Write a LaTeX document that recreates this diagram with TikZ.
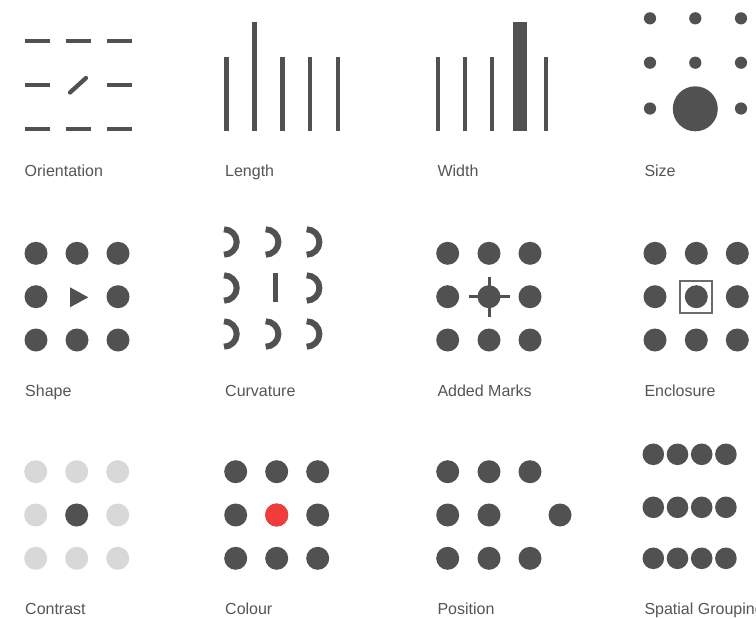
\documentclass[tikz,border=0pt]{standalone}
\usepackage{fontspec}
\setmainfont{Liberation Sans}
\definecolor{ink}{HTML}{515151}
\definecolor{pale}{HTML}{D8D8D8}
\definecolor{hot}{HTML}{F23B3B}
\definecolor{txt}{HTML}{555555}
\begin{document}
\begin{tikzpicture}[x=1pt,y=-1pt,
  lbl/.style={anchor=base west,inner sep=0pt,text=txt,font=\fontsize{16}{19}\selectfont},
  seg/.style={line width=4.3pt,draw=ink},
  arcstroke/.style={line width=6pt,draw=ink}]
\clip (0,0) rectangle (756,619);
\useasboundingbox (0,0) rectangle (756,619);
\fill[white] (0,0) rectangle (756,619);
% ---------- Orientation ----------
\foreach \y in {41,129}{\foreach \x in {24.5,65.5,106.5}{\draw[seg] (\x,\y) -- ++(25,0);}}
\draw[seg] (24.5,85) -- ++(25,0);
\draw[seg] (106.5,85) -- ++(25,0);
\draw[seg,line cap=round] (70,92.5) -- (86,78);
\node[lbl] (l1) at (24.5,176.5) {Orientation};
% ---------- Length ----------
\foreach \x in {226.7,282.3,310,338}{\fill[ink] (\x-2.3,56.7) rectangle (\x+2.3,131);}
\fill[ink] (254.3-2.3,21.7) rectangle (254.3+2.3,131);
\node[lbl] (l2) at (225,176.5) {Length};
% ---------- Width ----------
\foreach \x in {438.3,465.3,492.3,546.3}{\fill[ink] (\x-2,56.7) rectangle (\x+2,131);}
\fill[ink] (512.7,21.7) rectangle (526.7,131);
\node[lbl] (l3) at (437.3,176.5) {Width};
% ---------- Size ----------
\foreach \x in {650,695.3,741}{\foreach \y in {18.3,62.7}{\fill[ink] (\x,\y) circle (6.1);}}
\fill[ink] (650,108.5) circle (6.1);
\fill[ink] (741,108.5) circle (6.1);
\fill[ink] (695.3,108.8) circle (22.5);
\node[lbl] (l4) at (644.3,176.5) {Size};
% ---------- Shape ----------
\foreach \x in {36,77,118}{\foreach \y in {253.3,340}{\fill[ink] (\x,\y) circle (11.5);}}
\fill[ink] (36,296.7) circle (11.5);
\fill[ink] (118,296.7) circle (11.5);
\fill[ink] (70,287.3) -- (70,307.3) -- (88.3,297.3) -- cycle;
\node[lbl] (l5) at (25,396.5) {Shape};
% ---------- Curvature ----------
\foreach \x in {224,265.7,306.7}{\foreach \y in {242,334}{
  \draw[arcstroke] (\x,\y-12.7) arc[start angle=-90,end angle=90,radius=12.7];}}
\draw[arcstroke] (224,288-12.7) arc[start angle=-90,end angle=90,radius=12.7];
\draw[arcstroke] (306.7,288-12.7) arc[start angle=-90,end angle=90,radius=12.7];
\fill[ink] (275.7-2.6,272.7) rectangle (275.7+2.6,301.7);
\node[lbl] (l6) at (225,396.5) {Curvature};
% ---------- Added Marks ----------
\foreach \x in {447.7,489,530}{\foreach \y in {253.3,340}{\fill[ink] (\x,\y) circle (11.5);}}
\fill[ink] (447.7,296.7) circle (11.5);
\fill[ink] (530,296.7) circle (11.5);
\fill[ink] (489,296.7) circle (11.5);
\draw[ink,line width=3pt] (469,296.7) -- (510,296.7);
\draw[ink,line width=3pt] (489,276.7) -- (489,317.3);
\node[lbl] (l7) at (437.3,396.5) {Added Marks};
% ---------- Enclosure ----------
\foreach \x in {655,696.3,737.3}{\foreach \y in {253.3,296.7,340}{\fill[ink] (\x,\y) circle (11.5);}}
\draw[line width=1.8pt,draw=ink!85] (680.3,280.7) rectangle (712.3,312.7);
\node[lbl] (l8) at (644.3,396.5) {Enclosure};
% ---------- Contrast ----------
\foreach \x in {35.7,76.7,117.7}{\foreach \y in {471.7,515,558.3}{\fill[pale] (\x,\y) circle (11.5);}}
\fill[ink] (76.7,515) circle (11.5);
\node[lbl] (l9) at (25,614) {Contrast};
% ---------- Colour ----------
\foreach \x in {235.7,276.7,317.7}{\foreach \y in {471.7,515,558.3}{\fill[ink] (\x,\y) circle (11.5);}}
\fill[hot] (276.7,515) circle (11.5);
\node[lbl] (l10) at (225,614) {Colour};
% ---------- Position ----------
\foreach \x in {447.7,489,530}{\foreach \y in {471.7,558.3}{\fill[ink] (\x,\y) circle (11.5);}}
\fill[ink] (447.7,515) circle (11.5);
\fill[ink] (489,515) circle (11.5);
\fill[ink] (560,515) circle (11.5);
\node[lbl] (l11) at (437.3,614) {Position};
% ---------- Spatial Grouping ----------
\foreach \x in {653.3,677.5,701.7,725.9}{\foreach \y in {454.3,507.3,558.3}{\fill[ink] (\x,\y) circle (10.8);}}
\node[lbl] (l12) at (644.3,614) {Spatial Grouping};
\end{tikzpicture}
\end{document}
